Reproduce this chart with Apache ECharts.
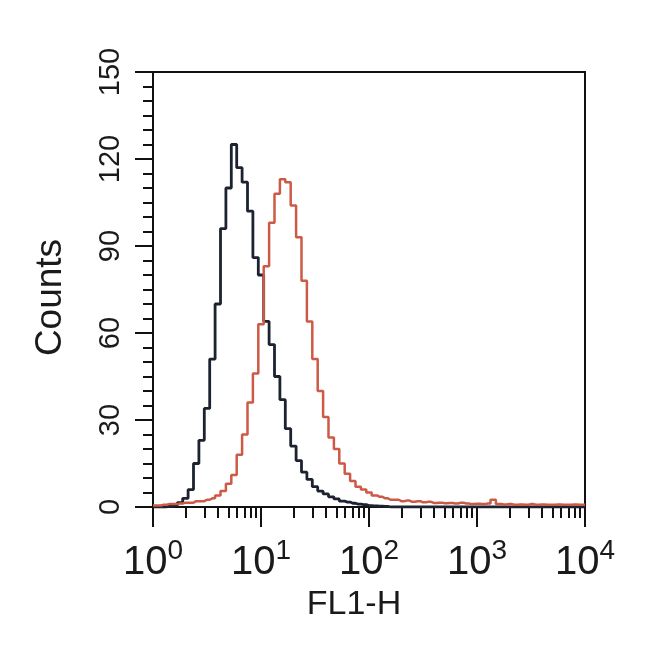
<!DOCTYPE html>
<html>
<head>
<meta charset="utf-8">
<script src="https://cdn.jsdelivr.net/npm/echarts@6/dist/echarts.min.js"></script>
<style>
html,body{margin:0;padding:0;background:#fff;}
#chart{width:650px;height:647px;}
</style>
</head>
<body>
<div id="chart"></div>
<script>
// FL1-H channel positions (log10 of intensity)
const logFL1 = [
  0.00,0.05,0.10,0.15,0.20,0.25,0.30,0.35,0.40,0.45,
  0.50,0.55,0.60,0.65,0.70,0.75,0.80,0.85,0.90,0.95,
  1.00,1.05,1.10,1.15,1.20,1.25,1.30,1.35,1.40,1.45,
  1.50,1.55,1.60,1.65,1.70,1.75,1.80,1.85,1.90,1.95,
  2.00,2.05,2.10,2.15,2.20,2.25,2.30,2.35,2.40,2.45,
  2.50,2.55,2.60,2.65,2.70,2.75,2.80,2.85,2.90,2.95,
  3.00,3.05,3.10,3.15,3.20,3.25,3.30,3.35,3.40,3.45,
  3.50,3.55,3.60,3.65,3.70,3.75,3.80,3.85,3.90,3.95,
  4.00
];
// Control (black) counts
const controlCounts = [
  0,0,0,0.2,0.5,1.5,3,6,15,23,
  34,51,70,96,110,125,117,112,102,86,
  80,64,56,45,37,27,21,16,12,9.5,
  7,5.5,4.5,3.5,2.8,2,1.7,1.3,1,0.8,
  0.5,0.4,0.3,0.2,0,0,0,0,0,0,
  0,0,0,0,0,0,0,0,0,0,
  0,0,0,0,0,0,0,0,0,0,
  0,0,0,0,0,0,0,0,0,0,
  0
];
// Stained (red) counts
const stainedCounts = [
  0.5,0.5,0.8,1,1,1.2,1.5,1.5,2,2,
  2.5,3,4,5.5,8,11,18,25,36,46,
  63,83,98,108,113,112,104,93,78,64,
  51,40,31,24,20,15,11.5,9,7,6,
  5,4,3.5,3,2.5,2.5,2,2.2,1.8,2,
  1.6,1.8,1.4,1.5,1.3,1.4,1.2,1.5,1.2,1.0,
  1.1,1.0,1.2,2.5,1.0,0.9,1.0,0.8,0.9,0.8,
  1.0,0.8,0.9,0.8,0.8,0.9,0.8,0.8,0.9,0.8,
  0.8
];
const yTicks = [0, 30, 60, 90, 120, 150];
const xDecades = [1, 10, 100, 1000, 10000];

const toPairs = (counts) => logFL1.map((l, i) => [Math.pow(10, l), counts[i]]);
const minorX = [];
for (let d = 0; d < 4; d++) for (let k = 2; k <= 9; k++) minorX.push(Math.log10(k) + d);

const FONT = 'Liberation Sans, Arial, sans-serif';
const chart = echarts.init(document.getElementById('chart'));
chart.setOption({
  animation: false,
  backgroundColor: '#fff',
  grid: { left: 153, right: 65, top: 72, bottom: 140, show: true, borderColor: '#111', borderWidth: 2 },
  xAxis: [{
    type: 'log', logBase: 10, min: xDecades[0], max: xDecades[xDecades.length - 1], interval: 1,
    name: 'FL1-H', nameLocation: 'middle', nameGap: 78,
    nameTextStyle: { fontSize: 34, color: '#1a1a1a', fontFamily: FONT, padding: [0, 30, 0, 0] },
    axisLine: { lineStyle: { color: '#111', width: 2 } },
    axisTick: { show: true, inside: false, length: 20, lineStyle: { color: '#111', width: 2 } },
    splitLine: { show: false },
    axisLabel: {
      margin: 30,
      fontFamily: FONT,
      formatter: (v) => '{b|10}{s|' + Math.round(Math.log10(v)) + '}',
      rich: {
        b: { fontSize: 40, color: '#1a1a1a', lineHeight: 46, verticalAlign: 'bottom', fontFamily: FONT },
        s: { fontSize: 28, color: '#1a1a1a', lineHeight: 28, verticalAlign: 'top', fontFamily: FONT }
      }
    }
  }, {
    type: 'value', min: 0, max: 4, position: 'bottom', gridIndex: 0,
    axisLine: { show: false }, axisLabel: { show: false }, splitLine: { show: false },
    axisTick: { show: true, length: 11, customValues: minorX, lineStyle: { color: '#111', width: 2 } }
  }],
  yAxis: {
    type: 'value', min: yTicks[0], max: yTicks[yTicks.length - 1], interval: 30,
    name: 'Counts', nameLocation: 'middle', nameGap: 84, nameRotate: 90,
    nameTextStyle: { fontSize: 37, color: '#1a1a1a', fontFamily: FONT, padding: [0, 16, 0, 0] },
    axisLine: { show: true, lineStyle: { color: '#111', width: 2 } },
    axisTick: { show: true, inside: false, length: 18, lineStyle: { color: '#111', width: 2 } },
    minorTick: { show: true, splitNumber: 6, length: 10, lineStyle: { color: '#111', width: 2 } },
    splitLine: { show: false },
    axisLabel: { rotate: 90, fontSize: 29, margin: 28, color: '#1a1a1a', fontFamily: FONT }
  },
  series: [{
    name: 'Control', type: 'line', step: 'middle', showSymbol: false,
    data: toPairs(controlCounts),
    lineStyle: { color: '#1c2230', width: 2.8 }
  }, {
    name: 'Stained', type: 'line', step: 'middle', showSymbol: false,
    data: toPairs(stainedCounts),
    lineStyle: { color: '#cc5a45', width: 2.5 }
  }]
});
</script>
</body>
</html>
